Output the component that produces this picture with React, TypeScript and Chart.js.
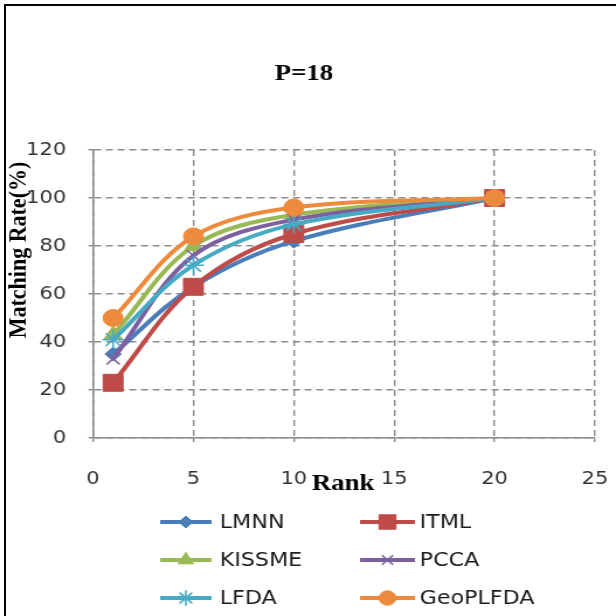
import React, { useEffect, useRef } from "react";
import { Chart, registerables } from "chart.js";
import { drawPoint } from "chart.js/helpers";

Chart.register(...registerables);

const ranks = [1, 5, 10, 20];
const LMNN = [35, 63, 82, 100];
const ITML = [23, 63, 85, 100];
const KISSME = [43, 80, 93, 100];
const PCCA = [33, 76, 91, 100];
const LFDA = [41, 72, 89, 100];
const GeoPLFDA = [50, 84, 96, 100];

const seriesNames = ["LMNN", "ITML", "KISSME", "PCCA", "LFDA", "GeoPLFDA"];
const seriesValues = [LMNN, ITML, KISSME, PCCA, LFDA, GeoPLFDA];
const seriesColors = ["#4A7EBB", "#BE4B48", "#98B954", "#7D60A0", "#46AAC5", "#EE8A3C"];
const seriesStyles = ["rectRot", "rect", "triangle", "crossRot", "star", "circle"];
const seriesRadius = [7, 12, 9, 8, 9, 8.5];
const seriesBorder = [1, 1, 1, 1.6, 1.6, 1];

const xTicks = [0, 5, 10, 15, 20, 25];
const yTicks = [0, 20, 40, 60, 80, 100, 120];

const TITLE = "P=18";
const X_TITLE = "Rank";
const Y_TITLE = "Matching Rate(%)";

const W = 527; // canvas width before horizontal stretch
const K = 616 / W;

const decor = {
  id: "decor",
  afterDraw(chart: any) {
    const ctx = chart.ctx;
    ctx.save();
    ctx.fillStyle = "#000";
    ctx.textAlign = "center";
    ctx.textBaseline = "middle";
    ctx.font = "bold 23px 'Liberation Serif', serif";
    ctx.fillText(TITLE, 260, 74);
    ctx.fillText(X_TITLE, 293.5, 484);
    ctx.save();
    ctx.translate(16, 250);
    ctx.rotate(-Math.PI / 2);
    ctx.font = "bold 22px 'Liberation Serif', serif";
    ctx.fillText(Y_TITLE, 0, 0);
    ctx.restore();

    // legend
    const cols = [
      { x1: 137, x2: 181, tx: 188 },
      { x1: 308, x2: 355, tx: 359 },
    ];
    const rows = [522, 560, 598];
    seriesNames.forEach((name, i) => {
      const c = cols[i % 2];
      const y = rows[Math.floor(i / 2)];
      const color = seriesColors[i];
      ctx.strokeStyle = color;
      ctx.fillStyle = color;
      ctx.lineWidth = 4;
      ctx.beginPath();
      ctx.moveTo(c.x1, y);
      ctx.lineTo(c.x2, y);
      ctx.stroke();
      ctx.lineWidth = seriesBorder[i];
      drawPoint(
        ctx,
        { pointStyle: seriesStyles[i], radius: seriesRadius[i] * 0.85, rotation: 0, borderWidth: seriesBorder[i] } as any,
        (c.x1 + c.x2) / 2,
        y
      );
      ctx.fillStyle = "#1a1a1a";
      ctx.textAlign = "left";
      ctx.font = "19px 'DejaVu Sans', sans-serif";
      ctx.fillText(name, c.tx, y + 1);
    });
    ctx.restore();
  },
};

export default function App() {
  const ref = useRef<HTMLCanvasElement>(null);
  useEffect(() => {
    if (!ref.current) return;
    const datasets = seriesNames.map((name, i) => ({
      label: name,
      data: ranks.map((r, j) => ({ x: r, y: seriesValues[i][j] })),
      borderColor: seriesColors[i],
      backgroundColor: seriesColors[i],
      borderWidth: 4,
      pointStyle: seriesStyles[i],
      pointRadius: seriesRadius[i],
      pointBorderWidth: seriesBorder[i],
      pointBackgroundColor: seriesColors[i],
      pointBorderColor: seriesColors[i],
      tension: 0.35,
      order: seriesNames.length - i,
    }));
    const chart = new Chart(ref.current, {
      type: "line",
      data: { datasets },
      options: {
        animation: false,
        responsive: false,
        devicePixelRatio: 1,
        layout: { padding: { left: 0, right: W - 509, top: 150, bottom: 118 } },
        plugins: { legend: { display: false }, tooltip: { enabled: false }, title: { display: false } },
        scales: {
          x: {
            type: "linear",
            min: 0,
            max: 25,
            afterBuildTicks: (s: any) => {
              s.ticks = xTicks.map((v) => ({ value: v }));
            },
            afterFit: (s: any) => {
              s.height = 60;
              s.paddingLeft = 0;
              s.paddingRight = 0;
            },
            ticks: {
              color: "#333",
              font: { family: "'DejaVu Sans', sans-serif", size: 18 },
              padding: 27,
              maxRotation: 0,
            },
            grid: { color: "#8c8c8c", lineWidth: 1.4, tickLength: 4, tickColor: "#8c8c8c", tickBorderDash: [] },
            border: { display: true, color: "#8c8c8c", width: 1.6, dash: [6, 4] },
          },
          y: {
            type: "linear",
            min: 0,
            max: 120,
            afterBuildTicks: (s: any) => {
              s.ticks = yTicks.map((v) => ({ value: v }));
            },
            afterFit: (s: any) => {
              s.width = 79.6;
              s.paddingTop = 0;
              s.paddingBottom = 0;
            },
            ticks: {
              color: "#333",
              font: { family: "'DejaVu Sans', sans-serif", size: 18 },
              padding: 19,
            },
            grid: { color: "#8c8c8c", lineWidth: 1.4, tickLength: 4, tickColor: "#8c8c8c", tickBorderDash: [] },
            border: { display: true, color: "#8c8c8c", width: 1.6, dash: [6, 4] },
          },
        },
      },
      plugins: [decor],
    } as any);
    return () => chart.destroy();
  }, []);

  return (
    <div style={{ position: "fixed", left: 0, top: 0, width: 616, height: 616, overflow: "hidden", background: "#fff" }}>
      <div
        style={{
          position: "absolute",
          left: 0,
          top: 0,
          width: W,
          height: 616,
          transform: `scaleX(${K})`,
          transformOrigin: "0 0",
        }}
      >
        <canvas ref={ref} width={W} height={616} style={{ display: "block", width: W, height: 616 }} />
      </div>
      <div
        style={{
          position: "absolute",
          left: 4,
          top: 4,
          right: -10,
          bottom: -10,
          borderLeft: "2px solid #000",
          borderTop: "2px solid #000",
          pointerEvents: "none",
        }}
      />
    </div>
  );
}
